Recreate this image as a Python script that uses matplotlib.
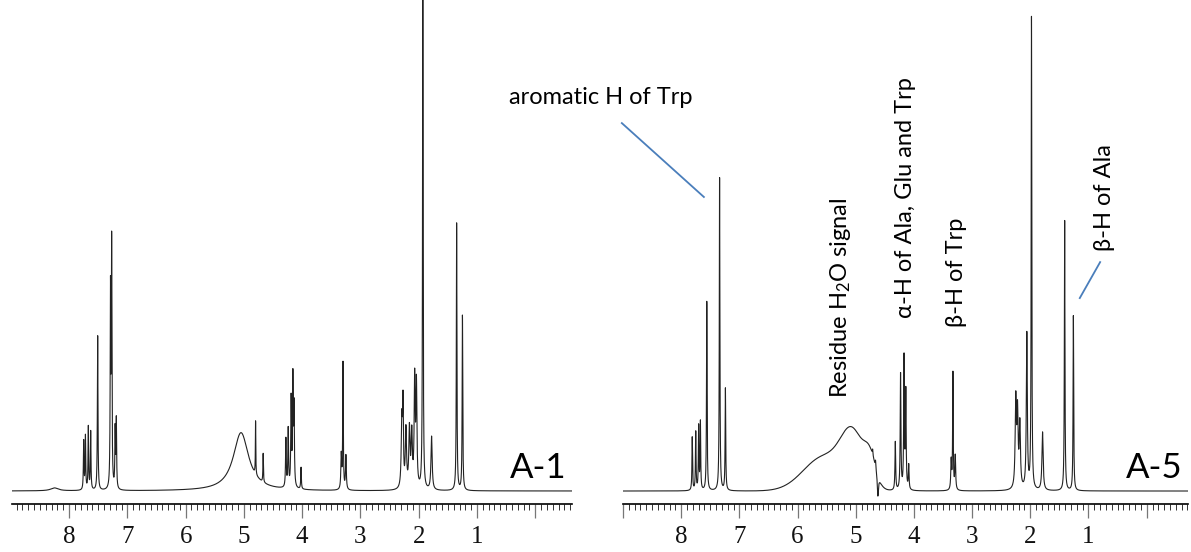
import numpy as np
import matplotlib.pyplot as plt
from matplotlib.ticker import MultipleLocator, FixedLocator

plt.rcParams['mathtext.default'] = 'regular'

# peak lists: shift (ppm), height (1 = tallest peak), half width (ppm)
a1_shift = [8.25, 7.75, 7.72, 7.67, 7.63, 7.51, 7.29, 7.27, 7.21, 7.19,
            5.05, 4.80, 4.67, 4.28, 4.24, 4.19, 4.16, 4.14, 4.02,
            3.33, 3.30, 3.25, 2.29, 2.27, 2.22, 2.16, 2.12, 2.07, 2.04,
            1.93, 1.78, 1.35, 1.25]
a1_height = [0.006, 0.10, 0.11, 0.13, 0.12, 0.32, 0.40, 0.50, 0.12, 0.14,
             0.12, 0.11, 0.06, 0.10, 0.12, 0.18, 0.22, 0.16, 0.045,
             0.07, 0.26, 0.07, 0.14, 0.16, 0.12, 0.12, 0.11, 0.22, 0.21,
             1.05, 0.11, 0.55, 0.36]
a1_width = [0.08, 0.006, 0.006, 0.006, 0.006, 0.006, 0.006, 0.006, 0.006, 0.006,
            0.16, 0.004, 0.005, 0.007, 0.007, 0.007, 0.007, 0.007, 0.006,
            0.008, 0.006, 0.008, 0.012, 0.008, 0.012, 0.012, 0.012, 0.010, 0.010,
            0.006, 0.012, 0.006, 0.006]

a5_shift = [7.81, 7.75, 7.70, 7.67, 7.56, 7.34, 7.24,
            4.71, 4.66, 4.62,
            4.32, 4.23, 4.17, 4.14, 4.09, 3.36, 3.33, 3.29,
            2.25, 2.22, 2.18, 2.06, 1.98, 1.79, 1.41, 1.26]
a5_height = [0.11, 0.12, 0.13, 0.14, 0.39, 0.65, 0.21,
             0.012, 0.015, -0.045,
             0.10, 0.24, 0.27, 0.20, 0.05, 0.06, 0.24, 0.07,
             0.18, 0.15, 0.13, 0.32, 0.97, 0.12, 0.56, 0.36]
a5_width = [0.006, 0.006, 0.006, 0.006, 0.006, 0.006, 0.006,
            0.006, 0.006, 0.012,
            0.007, 0.007, 0.007, 0.007, 0.007, 0.008, 0.006, 0.008,
            0.012, 0.012, 0.012, 0.010, 0.006, 0.012, 0.006, 0.006]

# broad residual water hump of A-5: centre (ppm), height, sigma (ppm)
a5_hump_shift = [5.55, 5.05, 4.75]
a5_hump_height = [0.07, 0.105, 0.05]
a5_hump_sigma = [0.35, 0.20, 0.10]

tick_values = [1, 2, 3, 4, 5, 6, 7, 8]
tick_labels = ['1', '2', '3', '4', '5', '6', '7', '8']


# sum of lorentzian lines plus gaussian humps
def spectrum(ppm, shift, height, width, hshift=(), hheight=(), hsigma=()):
    y = np.zeros_like(ppm)
    for s, h, w in zip(shift, height, width):
        y += h / (1 + ((ppm - s) / w) ** 2)
    for s, h, w in zip(hshift, hheight, hsigma):
        y += h * np.exp(-(ppm - s) ** 2 / (2 * w ** 2))
    return y


def draw(ax, y_fn, xmin, xmax, name):
    ppm = np.linspace(xmin, xmax, 8000)
    ax.plot(ppm, y_fn(ppm), c='#222222', lw=0.8)
    ax.set_xlim(xmin, xmax)
    ax.set_ylim(-0.0267, 1.0103)
    for s in ['top', 'left', 'right']:
        ax.spines[s].set_visible(False)
    ax.spines['bottom'].set_linewidth(1.2)
    ax.set_yticks([])
    ax.xaxis.set_major_locator(FixedLocator(range(-1, 10)))
    ax.xaxis.set_minor_locator(MultipleLocator(0.1))
    ax.set_xticklabels([])
    ax.tick_params(axis='x', which='major', length=10, width=0.9, color='#777777')
    ax.tick_params(axis='x', which='minor', length=4, width=0.7, color='#333333')
    for v, lab in zip(tick_values, tick_labels):
        ax.text(v, -0.095, lab, ha='center', va='center', fontsize=18,
                family='Liberation Serif', color='#111111', clip_on=False)
    ax.text(xmax + 0.1, 0.027, name, ha='right', va='baseline', fontsize=25,
            family=['Lato', 'DejaVu Sans'])


fig = plt.figure(figsize=(11.91, 5.52), dpi=100)
ax1 = fig.add_axes([12 / 1191, 48 / 552, 560 / 1191, 504 / 552])
ax2 = fig.add_axes([623 / 1191, 48 / 552, 565 / 1191, 504 / 552])

draw(ax1, lambda p: spectrum(p, a1_shift, a1_height, a1_width), 8.98, -0.63, 'A-1')
draw(ax2, lambda p: spectrum(p, a5_shift, a5_height, a5_width,
                             a5_hump_shift, a5_hump_height, a5_hump_sigma), 9.0, -0.71, 'A-5')

font = ['Lato', 'DejaVu Sans']
ax2.text(9.38, 0.81, 'aromatic H of Trp', ha='center', va='center', fontsize=17, family=font)
ax2.plot([9.02, 7.61], [0.757, 0.605], c='#4a7ebb', lw=1.3, clip_on=False)
ax2.text(5.27, 0.397, 'Residue H$_2$O signal', rotation=90, ha='center', va='center',
         fontsize=17, family=font)
ax2.text(4.14, 0.603, 'α-H of Ala, Glu and Trp', rotation=90, ha='center', va='center',
         fontsize=17, family=font)
ax2.text(3.26, 0.45, 'β-H of Trp', rotation=90, ha='center', va='center',
         fontsize=17, family=font)
ax2.text(0.72, 0.603, 'β-H of Ala', rotation=90, ha='center', va='center',
         fontsize=17, family=font)
ax2.plot([0.80, 1.15], [0.471, 0.397], c='#4a7ebb', lw=1.3)

fig.savefig('out.png', dpi=100)
